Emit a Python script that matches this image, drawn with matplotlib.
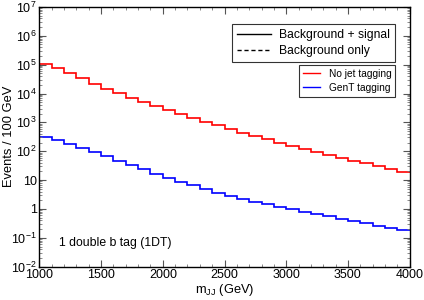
import matplotlib
matplotlib.use("Agg")
import matplotlib.pyplot as plt
import numpy as np
from matplotlib.lines import Line2D
from matplotlib.ticker import FixedLocator, FixedFormatter, LogLocator, NullFormatter, MultipleLocator

plt.rcParams['font.family'] = ['Liberation Sans', 'DejaVu Sans']
plt.rcParams['mathtext.fontset'] = 'custom'
plt.rcParams['mathtext.rm'] = 'Liberation Sans'
plt.rcParams['mathtext.it'] = 'Liberation Sans:italic'

bin_edges = list(range(1000, 4001, 100))
no_tag = [1.06e5, 7.9e4, 5.3e4, 3.37e4, 2.2e4, 1.48e4, 1.02e4, 7.0e3, 5.2e3, 3.7e3,
          2.77e3, 1.96e3, 1.42e3, 1.03e3, 795, 590, 440, 347, 260, 198,
          155, 123, 96, 74, 58, 47, 38, 31, 23.7, 19]
gent_tag = [304, 245, 182, 132, 97, 68, 47, 33, 23.7, 16.3,
            12.1, 8.8, 6.8, 4.9, 3.66, 2.88, 2.21, 1.74, 1.45, 1.18,
            0.97, 0.80, 0.68, 0.556, 0.46, 0.38, 0.316, 0.26, 0.224, 0.19]
y_ticks = [1e-2, 1e-1, 1, 10, 1e2, 1e3, 1e4, 1e5, 1e6, 1e7]
y_ticklabels = [r'$\mathdefault{10^{-2}}$', r'$\mathdefault{10^{-1}}$', '1', '10',
                r'$\mathdefault{10^{2}}$', r'$\mathdefault{10^{3}}$', r'$\mathdefault{10^{4}}$',
                r'$\mathdefault{10^{5}}$', r'$\mathdefault{10^{6}}$', r'$\mathdefault{10^{7}}$']
x_ticks = [1000, 1500, 2000, 2500, 3000, 3500, 4000]

fig = plt.figure(figsize=(4.24, 3.0), dpi=100)
ax = fig.add_axes([0.093, 0.111, 0.873, 0.866])

ax.stairs(no_tag, bin_edges, baseline=None, color='#ff0000', lw=1.2)
ax.stairs(gent_tag, bin_edges, baseline=None, color='#0000ff', lw=1.2)

ax.set_yscale('log')
ax.set_xlim(1000, 4000)
ax.set_ylim(1e-2, 1e7)
ax.yaxis.set_major_locator(FixedLocator(y_ticks))
ax.yaxis.set_major_formatter(FixedFormatter(y_ticklabels))
ax.yaxis.set_minor_locator(LogLocator(base=10, subs=np.arange(2, 10), numticks=20))
ax.yaxis.set_minor_formatter(NullFormatter())
ax.xaxis.set_major_locator(FixedLocator(x_ticks))
ax.xaxis.set_minor_locator(MultipleLocator(100))

ax.tick_params(which='both', direction='in', top=True, right=True, labelsize=9, pad=2)
ax.tick_params(which='major', length=5, width=0.8, color='#555555')
ax.tick_params(which='minor', length=2.5, width=0.6, color='#777777')
for s in ax.spines.values():
    s.set_linewidth(1.0)

ax.set_xlabel(r'm$_{\mathdefault{JJ}}$ (GeV)', fontsize=9.3)
ax.xaxis.set_label_coords(0.5, -0.06)
ax.set_ylabel('Events / 100 GeV', fontsize=9.3)
ax.yaxis.set_label_coords(-0.066, 0.5)

ax.text(0.052, 0.09, '1 double b tag (1DT)', transform=ax.transAxes, fontsize=8.8, va='center', ha='left')

h1 = [Line2D([], [], color='black', lw=1.0, ls='-'),
      Line2D([], [], color='black', lw=1.0, ls=(0, (3, 2)))]
leg1 = ax.legend(h1, ['Background + signal', 'Background only'], loc='upper right',
                 bbox_to_anchor=(0.96, 0.933), fontsize=8.7, frameon=True, fancybox=False,
                 edgecolor='black', handlelength=2.8, borderpad=0.4, labelspacing=0.3,
                 handletextpad=0.69, borderaxespad=0)
leg1.get_frame().set_linewidth(0.8)
ax.add_artist(leg1)

h2 = [Line2D([], [], color='#ff0000', lw=1.0),
      Line2D([], [], color='#0000ff', lw=1.0)]
leg2 = ax.legend(h2, ['No jet tagging', 'GenT tagging'], loc='upper right',
                 bbox_to_anchor=(0.9616, 0.777), fontsize=7.3, frameon=True, fancybox=False,
                 edgecolor='black', handlelength=1.75, borderpad=0.4, labelspacing=0.4,
                 handletextpad=0.8, borderaxespad=0)
leg2.get_frame().set_linewidth(0.8)

fig.savefig('out.png', dpi=100)
